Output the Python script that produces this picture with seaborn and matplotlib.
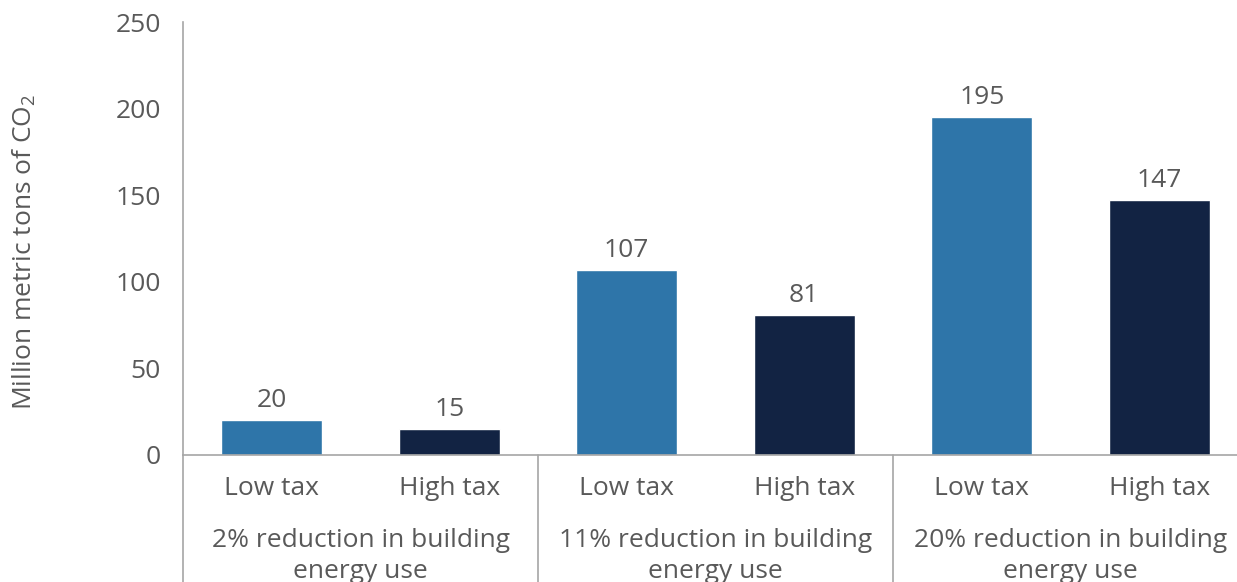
import matplotlib
matplotlib.use("Agg")
import matplotlib.pyplot as plt
import pandas as pd
import seaborn as sns

# Data
groups = [
    "2% reduction in building\nenergy use",
    "11% reduction in building\nenergy use",
    "20% reduction in building\nenergy use",
]
taxes = ["Low tax", "High tax"]
low_tax = [20, 107, 195]
high_tax = [15, 81, 147]
y_ticks = [0, 50, 100, 150, 200, 250]
y_label = "Million metric tons of CO$_\\mathregular{2}$"

colors = {"Low tax": "#2e75a9", "High tax": "#122343"}
text_gray = "#595959"
line_gray = "#a6a6a6"
fs = 19

rows = []
for g, lo, hi in zip(groups, low_tax, high_tax):
    rows.append({"slot": f"{g}|Low tax", "group": g, "tax": "Low tax", "value": lo})
    rows.append({"slot": f"{g}|High tax", "group": g, "tax": "High tax", "value": hi})
df = pd.DataFrame(rows)
slots = list(df["slot"])

sns.set_theme(style="white")
plt.rcParams["font.family"] = ["Open Sans", "DejaVu Sans"]
plt.rcParams["mathtext.fontset"] = "custom"
plt.rcParams["mathtext.rm"] = "Open Sans"

fig = plt.figure(figsize=(12.37, 5.82), dpi=100)
ax = fig.add_axes([183 / 1237, (582 - 455) / 582, (1248 - 183) / 1237, (455 - 22) / 582])

sns.barplot(data=df, x="slot", y="value", hue="tax", order=slots,
            palette=colors, dodge=False, width=0.57, saturation=1,
            legend=False, ax=ax)

for c in ax.containers:
    ax.bar_label(c, fmt="%g", padding=5, fontsize=fs, color=text_gray)

ax.set_ylim(0, 250)
ax.set_xlim(-0.5, len(slots) - 0.5)
ax.set_yticks(y_ticks)
ax.set_yticklabels([str(t) for t in y_ticks])
ax.set_xticks(range(len(slots)))
ax.set_xticklabels([s.split("|")[1] for s in slots])
ax.tick_params(axis="both", length=0, labelsize=fs, labelcolor=text_gray)
ax.tick_params(axis="y", pad=16)
ax.tick_params(axis="x", pad=15)

ax.set_xlabel("")
ax.set_ylabel(y_label, fontsize=fs, color=text_gray)
ax.yaxis.set_label_coords(-0.136, 0.47)

for side in ["top", "right"]:
    ax.spines[side].set_visible(False)
for side in ["left", "bottom"]:
    ax.spines[side].set_color(line_gray)
    ax.spines[side].set_linewidth(1.2)

# Category separators running down through the label area
trans = ax.get_xaxis_transform()
for xpos in [-0.5, 1.5, 3.5, 5.5]:
    ax.plot([xpos, xpos], [0, -0.4], transform=trans, clip_on=False,
            color=line_gray, lw=1.2)

# Group labels
for i, g in enumerate(groups):
    ax.text(2 * i + 0.5, -(528 - 455) / 433, g, transform=trans,
            ha="center", va="top", fontsize=fs, color=text_gray,
            linespacing=1.3)

fig.savefig("out.png", dpi=100)
